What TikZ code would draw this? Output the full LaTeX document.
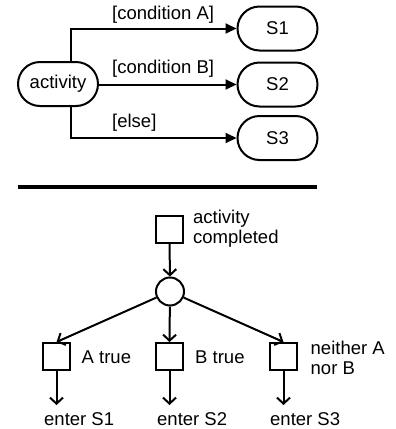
\documentclass[tikz,border=0pt]{standalone}
\usepackage{fontspec}
\setmainfont{Liberation Sans}
\usetikzlibrary{arrows.meta,shapes.misc}
\tikzset{
  txt/.style={font=\fontsize{18.5}{20}\selectfont, inner sep=0pt},
  statebox/.style={draw, line width=2pt, rounded rectangle, minimum width=80pt, minimum height=44pt, inner sep=0pt, font=\fontsize{18.5}{20}\selectfont},
  flow/.style={line width=2pt, -{Triangle[length=11pt,width=10pt]}},
  evbox/.style={draw, line width=2pt, minimum size=27pt, inner sep=0pt},
  junc/.style={draw, line width=2pt, circle, minimum size=28pt, inner sep=0pt},
  evflow/.style={line width=2pt, -{Straight Barb[length=6pt,width=13pt,line width=2pt]}},
}
\begin{document}
\begin{tikzpicture}[x=1pt,y=-1pt]
\useasboundingbox (0,0) rectangle (396,429);
% top diagram
\node[statebox] (act) at (58,84) {activity};
\node[statebox] (s1) at (277.5,28.5) {S1};
\node[statebox] (s2) at (277.5,84.5) {S2};
\node[statebox] (s3) at (277.5,138) {S3};
\coordinate (xline) at (71,0);
\draw[flow] (act.north -| xline) |- (s1);
\draw[flow] (act.east |- s2) -- (s2);
\draw[flow] (act.south -| xline) |- (s3);
\node[txt, anchor=west] (la) at (112,15) {[condition A]};
\node[txt, anchor=west] (lb) at (112,69) {[condition B]};
\node[txt, anchor=west] (le) at (112,123) {[else]};
% separator
\coordinate (sepL) at (18,186.5);
\coordinate (sepR) at (317,186.5);
\draw[line width=4pt] (sepL) -- (sepR);
% bottom diagram
\node[evbox] (ac) at (169.5,229) {};
\node[txt, anchor=west, align=left] (acl) at (193,229) {activity\\completed};
\node[junc] (j) at (170,291.5) {};
\node[evbox] (a) at (56.5,356.5) {};
\node[evbox] (b) at (169.5,356.5) {};
\node[evbox] (c) at (283.5,356.5) {};
\node[txt, anchor=west] (al) at (81.5,357) {A true};
\node[txt, anchor=west] (bl) at (195,357) {B true};
\node[txt, anchor=west, align=left] (cl) at (310.5,358) {neither A\\nor B};
\draw[evflow] (ac) -- (j);
\draw[evflow] (j) -- (a.north);
\draw[evflow] (j) -- (b.north);
\draw[evflow] (j) -- (c.north);
\coordinate (ea) at (56.5,405);
\coordinate (eb) at (169.5,405);
\coordinate (ec) at (283.5,405);
\draw[evflow] (a) -- (ea);
\draw[evflow] (b) -- (eb);
\draw[evflow] (c) -- (ec);
\node[txt, anchor=west] (e1) at (44,419) {enter S1};
\node[txt, anchor=west] (e2) at (157,419) {enter S2};
\node[txt, anchor=west] (e3) at (270,419) {enter S3};
\end{tikzpicture}
\end{document}
